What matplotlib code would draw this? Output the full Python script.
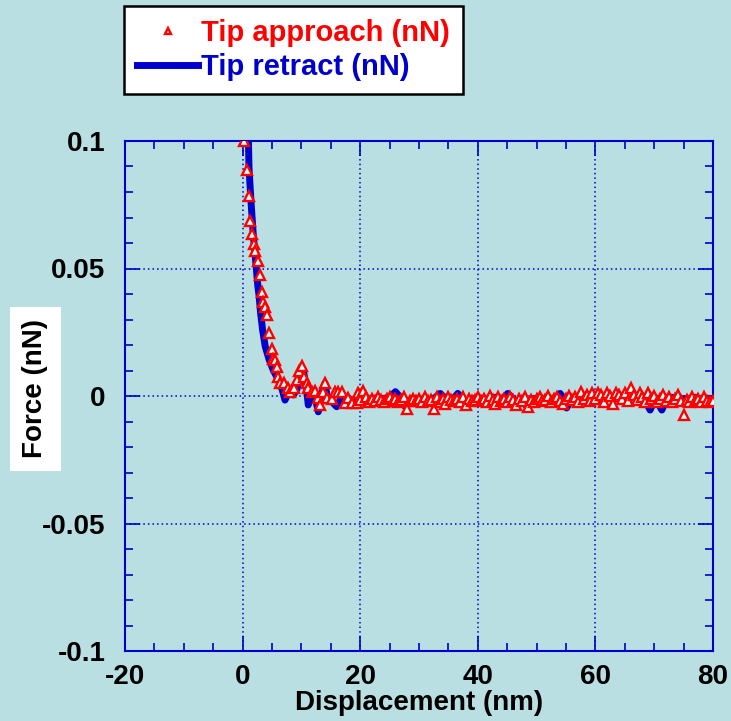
import matplotlib
matplotlib.use("Agg")
import matplotlib.pyplot as plt
from matplotlib.ticker import MultipleLocator

plt.rcParams["font.family"] = ["Liberation Sans", "DejaVu Sans"]

BG = "#b9dfe2"
BLUE = "#0000cc"
RED = "#ff0000"

# Tip approach (red triangles), displacement in nm, force in nN
approach_x = [
    0.24, 0.75, 1.04, 1.31, 1.60, 1.89, 2.11, 2.67, 2.91, 3.25,
    3.52, 3.81, 4.10, 4.44, 4.95, 5.22, 5.51, 5.80, 6.07, 6.36,
    7.09, 7.77, 8.06, 8.79, 9.30, 9.64, 10.15, 10.44, 10.90, 11.17,
    11.75, 12.31, 12.87, 13.16, 13.62, 14.01, 14.40, 15.15, 15.71, 16.28,
    16.85, 17.41, 17.98, 18.55, 19.40, 19.68,
    20.0, 20.5, 21.0, 21.5, 22.0, 22.5, 23.0, 23.5, 24.0, 24.5,
    25.0, 25.5, 26.0, 26.5, 27.0, 27.5, 28.0, 28.5, 29.0, 29.5,
    30.0, 30.5, 31.0, 31.5, 32.0, 32.5, 33.0, 33.5, 34.0, 34.5,
    35.0, 35.5, 36.0, 36.5, 37.0, 37.5, 38.0, 38.5, 39.0, 39.5,
    40.0, 40.5, 41.0, 41.5, 42.0, 42.5, 43.0, 43.5, 44.0, 44.5,
    45.0, 45.5, 46.0, 46.5, 47.0, 47.5, 48.0, 48.5, 49.0, 49.5,
    50.0, 50.5, 51.0, 51.5, 52.0, 52.5, 53.0, 53.5, 54.0, 54.5,
    55.0, 55.5, 56.0, 56.5, 57.0, 57.5, 58.0, 58.5, 59.0, 59.5,
    60.0, 60.5, 61.0, 61.5, 62.0, 62.5, 63.0, 63.5, 64.0, 64.5,
    65.0, 65.5, 66.0, 66.5, 67.0, 67.5, 68.0, 68.5, 69.0, 69.5,
    70.0, 70.5, 71.0, 71.5, 72.0, 72.5, 73.0, 73.5, 74.0, 74.5,
    75.0, 75.5, 76.0, 76.5, 77.0, 77.5, 78.0, 78.5, 79.0, 79.5,
    80.0,
]
approach_f = [
    0.1000, 0.0886, 0.0784, 0.0686, 0.0635, 0.0596, 0.0569, 0.0529, 0.0475, 0.0409,
    0.0370, 0.0348, 0.0318, 0.0248, 0.0183, 0.0144, 0.0141, 0.0115, 0.0076, 0.0052,
    0.0052, 0.0030, 0.0017, 0.0030, 0.0063, 0.0099, 0.0118, 0.0076, 0.0052, 0.0030,
    0.0017, 0.0021, -0.0009, -0.0035, 0.0017, 0.0052, -0.0009, -0.0013, 0.0017, 0.0017,
    0.0017, -0.0029, -0.0009, -0.0029, -0.0029, 0.0011,
    -0.0015, 0.0020, -0.0005, -0.0025, -0.0010, -0.0020, -0.0005, -0.0015, -0.0025, -0.0010,
    -0.0005, -0.0020, -0.0010, -0.0025, -0.0015, -0.0005, -0.0050, -0.0020, -0.0010, -0.0020,
    -0.0010, -0.0025, -0.0005, -0.0020, -0.0015, -0.0050, -0.0005, -0.0025, -0.0010, -0.0030,
    -0.0005, -0.0015, -0.0020, -0.0010, -0.0025, -0.0005, -0.0035, -0.0010, -0.0020, -0.0015,
    -0.0005, -0.0020, -0.0010, -0.0025, 0.0000, -0.0015, -0.0030, -0.0005, -0.0020, -0.0010,
    -0.0025, -0.0005, -0.0015, -0.0035, -0.0010, -0.0020, -0.0005, -0.0045, -0.0015, -0.0025,
    -0.0010, -0.0005, -0.0020, -0.0015, 0.0000, -0.0025, -0.0010, -0.0005, -0.0020, -0.0030,
    -0.0010, 0.0000, -0.0015, -0.0005, -0.0025, 0.0015, -0.0010, 0.0005, -0.0020, 0.0010,
    -0.0010, 0.0010, 0.0005, -0.0025, 0.0010, 0.0000, -0.0030, 0.0010, 0.0005, -0.0010,
    0.0010, -0.0020, 0.0030, 0.0005, -0.0015, 0.0010, -0.0005, -0.0025, 0.0010, -0.0010,
    0.0000, -0.0025, -0.0010, 0.0005, -0.0020, -0.0005, -0.0025, -0.0010, 0.0005, -0.0020,
    -0.0075, -0.0015, -0.0025, -0.0005, -0.0020, -0.0010, -0.0025, -0.0005, -0.0020, -0.0025,
    -0.0020,
]

# Tip retract (blue line)
retract_x = [
    0.95, 1.09, 1.43, 1.82, 2.33, 2.60, 2.79, 3.07, 3.40, 3.86,
    4.54, 5.20, 6.07, 6.75, 7.21, 7.77, 8.62, 9.20, 9.76, 10.32,
    10.90, 11.17, 11.75, 12.30, 12.87, 13.45, 14.01, 14.40, 15.15, 16.00,
    16.56, 17.50, 18.50, 19.50, 20.0, 21.0, 22.0, 23.0, 24.0, 25.0,
    26.0, 27.0, 27.6, 28.5, 29.5, 30.5, 31.5, 32.5, 33.6, 34.5,
    35.5, 36.6, 37.3, 38.1, 39.0, 40.0, 41.0, 42.0, 43.0, 44.0,
    45.1, 46.0, 46.6, 47.5, 48.5, 49.5, 50.5, 51.5, 52.5, 53.3,
    54.0, 54.6, 55.1, 56.0, 57.0, 58.0, 59.6, 60.5, 61.5, 62.5,
    63.5, 64.5, 65.5, 66.5, 67.5, 68.5, 69.3, 70.2, 71.3, 72.2,
    73.0, 74.0, 75.0, 76.0, 77.0, 78.0, 79.0, 80.0,
]
retract_f = [
    0.1050, 0.0893, 0.0762, 0.0631, 0.0501, 0.0430, 0.0396, 0.0324, 0.0259, 0.0193,
    0.0141, 0.0102, 0.0063, 0.0024, -0.0016, 0.0012, 0.0004, 0.0024, 0.0076, 0.0102,
    0.0024, -0.0035, 0.0004, 0.0000, -0.0062, 0.0011, 0.0050, -0.0003, -0.0022, -0.0042,
    -0.0016, -0.0020, -0.0015, -0.0020, -0.0010, -0.0015, -0.0010, -0.0020, -0.0010, -0.0005,
    0.0017, -0.0010, -0.0040, -0.0020, -0.0010, -0.0015, -0.0030, -0.0010, 0.0010, -0.0010,
    -0.0020, 0.0010, -0.0010, -0.0040, -0.0010, -0.0015, -0.0010, -0.0020, -0.0005, -0.0015,
    0.0010, -0.0010, -0.0040, -0.0010, -0.0047, -0.0010, -0.0015, -0.0010, -0.0020, -0.0005,
    0.0010, -0.0010, -0.0047, -0.0010, -0.0015, -0.0005, 0.0010, -0.0010, -0.0005, 0.0000,
    -0.0010, 0.0000, -0.0010, -0.0005, -0.0015, -0.0020, -0.0055, -0.0010, -0.0055, -0.0010,
    -0.0005, -0.0015, -0.0010, -0.0020, -0.0005, -0.0015, -0.0010, -0.0015,
]

x_ticks = [-20, 0, 20, 40, 60, 80]
y_ticks = [-0.1, -0.05, 0, 0.05, 0.1]
y_labels = ["-0.1", "-0.05", "0", "0.05", "0.1"]

fig = plt.figure(figsize=(7.31, 7.21), dpi=100, facecolor=BG)
ax = fig.add_axes([125 / 731, 1 - 651 / 721, (713 - 125) / 731, (651 - 141) / 721])
ax.set_facecolor(BG)

line, = ax.plot(retract_x, retract_f, color=BLUE, lw=5,
                solid_joinstyle="round", zorder=3, label="Tip retract (nN)")
pts, = ax.plot(approach_x, approach_f, ls="none", marker="^", ms=7,
               mfc="white", mec=RED, mew=1.7, zorder=4, label="Tip approach (nN)")

ax.set_xlim(-20, 80)
ax.set_ylim(-0.1, 0.1)
ax.set_xticks(x_ticks)
ax.set_xticklabels([str(t) for t in x_ticks])
ax.set_yticks(y_ticks)
ax.set_yticklabels(y_labels)
ax.xaxis.set_minor_locator(MultipleLocator(5))
ax.yaxis.set_minor_locator(MultipleLocator(0.01))
ax.tick_params(which="both", direction="in", top=True, right=True, color=BLUE,
               width=1.2, labelsize=20, labelcolor="black")
ax.tick_params(which="major", length=11)
ax.tick_params(which="minor", length=6)
ax.tick_params(axis="y", pad=14)
ax.tick_params(axis="x", pad=9)
for lab in ax.get_xticklabels() + ax.get_yticklabels():
    lab.set_fontweight("bold")
for sp in ax.spines.values():
    sp.set_color(BLUE)
    sp.set_linewidth(1.5)
ax.grid(True, which="major", color=BLUE, ls=(0, (1, 2)), lw=1.1)

ax.set_xlabel("Displacement (nm)", fontsize=20, fontweight="bold", labelpad=0)
fig.text(35 / 731, 1 - 389 / 721, "Force (nN)", rotation=90, fontsize=20,
         fontweight="bold", ha="center", va="center",
         bbox=dict(facecolor="white", edgecolor="none", pad=9))

leg = fig.legend(handles=[pts, line], loc="upper left",
                 bbox_to_anchor=(124 / 731, 1 - 6 / 721), fontsize=21,
                 frameon=True, fancybox=False, framealpha=1, edgecolor="black",
                 handlelength=2.1, handletextpad=0.1, labelspacing=0.2,
                 borderpad=0.45, borderaxespad=0, markerscale=0.55)
leg.get_frame().set_linewidth(1.8)
for txt, col in zip(leg.get_texts(), [RED, BLUE]):
    txt.set_color(col)
    txt.set_fontweight("bold")

fig.savefig("out.png", dpi=100, facecolor=BG)
